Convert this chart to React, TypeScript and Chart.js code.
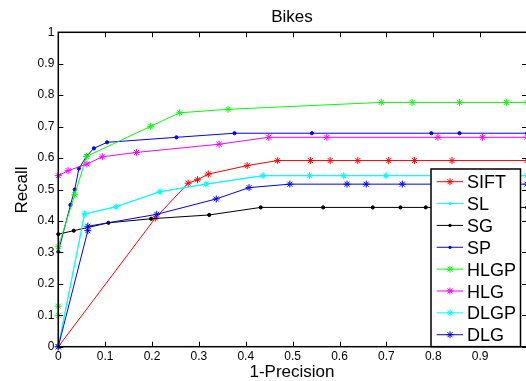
import React, { useEffect, useRef } from "react";
import { Chart, registerables } from "chart.js";

Chart.register(...registerables);

// ---------- data ----------
const SERIES_NAMES = ["SIFT", "SL", "SG", "SP", "HLGP", "HLG", "DLGP", "DLG"];

const SIFT_X = [0, 0.207, 0.277, 0.297, 0.32, 0.403, 0.468, 0.538, 0.58, 0.639, 0.705, 0.76, 0.84, 1.0];
const SIFT_Y = [0, 0.409, 0.52, 0.531, 0.549, 0.576, 0.592, 0.592, 0.592, 0.592, 0.592, 0.592, 0.592, 0.592];

const SL_X = [0, 0.056, 0.123, 0.217, 0.315, 0.437, 0.536, 0.609, 0.699, 0.8, 1.0];
const SL_Y = [0, 0.422, 0.445, 0.493, 0.517, 0.544, 0.544, 0.544, 0.544, 0.544, 0.544];

const SG_X = [0, 0.033, 0.107, 0.198, 0.322, 0.432, 0.565, 0.671, 0.73, 0.784, 0.85, 1.0];
const SG_Y = [0.358, 0.369, 0.394, 0.407, 0.419, 0.443, 0.443, 0.443, 0.443, 0.443, 0.443, 0.443];

const SP_X = [0, 0.026, 0.035, 0.044, 0.061, 0.076, 0.104, 0.252, 0.376, 0.541, 0.796, 0.856, 1.0];
const SP_Y = [0.302, 0.451, 0.5, 0.567, 0.607, 0.631, 0.65, 0.666, 0.679, 0.679, 0.679, 0.679, 0.679];

const HLGP_X = [0, 0, 0, 0.035, 0.06, 0.197, 0.259, 0.362, 0.689, 0.755, 0.856, 0.956, 1.0];
const HLGP_Y = [0.099, 0.129, 0.318, 0.483, 0.605, 0.701, 0.744, 0.755, 0.777, 0.777, 0.777, 0.777, 0.777];

const HLG_X = [0, 0, 0.021, 0.061, 0.094, 0.167, 0.343, 0.449, 0.573, 0.81, 0.905, 1.0];
const HLG_Y = [0, 0.544, 0.56, 0.581, 0.604, 0.618, 0.644, 0.666, 0.666, 0.666, 0.666, 0.666];

const DLGP_X = [0, 0.056, 0.123, 0.217, 0.315, 0.437, 0.536, 0.609, 0.699, 0.8, 1.0];
const DLGP_Y = [0, 0.422, 0.445, 0.493, 0.517, 0.544, 0.544, 0.544, 0.544, 0.544, 0.544];

const DLG_X = [0, 0.063, 0.063, 0.21, 0.337, 0.407, 0.494, 0.616, 0.657, 0.734, 1.0];
const DLG_Y = [0, 0.369, 0.383, 0.421, 0.47, 0.506, 0.517, 0.517, 0.517, 0.517, 0.517];

const X_TICKS = [0, 0.1, 0.2, 0.3, 0.4, 0.5, 0.6, 0.7, 0.8, 0.9];
const X_TICK_LABELS = ["0", "0.1", "0.2", "0.3", "0.4", "0.5", "0.6", "0.7", "0.8", "0.9"];
const Y_TICKS = [0, 0.1, 0.2, 0.3, 0.4, 0.5, 0.6, 0.7, 0.8, 0.9, 1];
const Y_TICK_LABELS = ["0", "0.1", "0.2", "0.3", "0.4", "0.5", "0.6", "0.7", "0.8", "0.9", "1"];

const TITLE = "Bikes";
const X_TITLE = "1-Precision";
const Y_TITLE = "Recall";

// ---------- styles ----------
const SERIES = [
  { x: SIFT_X, y: SIFT_Y, color: "#ff0000", marker: "star" },
  { x: SL_X, y: SL_Y, color: "#00ffff", marker: "dot" },
  { x: SG_X, y: SG_Y, color: "#000000", marker: "dot" },
  { x: SP_X, y: SP_Y, color: "#0000ff", marker: "dot" },
  { x: HLGP_X, y: HLGP_Y, color: "#00ff00", marker: "star" },
  { x: HLG_X, y: HLG_Y, color: "#ff00ff", marker: "star" },
  { x: DLGP_X, y: DLGP_Y, color: "#00ffff", marker: "star" },
  { x: DLG_X, y: DLG_Y, color: "#0000ff", marker: "star" },
];

const FONT = "'Liberation Sans', Arial, Helvetica, sans-serif";

function drawMarker(ctx: CanvasRenderingContext2D, kind: string, x: number, y: number, color: string) {
  ctx.save();
  ctx.strokeStyle = color;
  ctx.fillStyle = color;
  ctx.lineWidth = 1;
  if (kind === "star") {
    const r = 3.5;
    const d = r * Math.SQRT1_2;
    ctx.beginPath();
    ctx.moveTo(x - r, y);
    ctx.lineTo(x + r, y);
    ctx.moveTo(x, y - r);
    ctx.lineTo(x, y + r);
    ctx.moveTo(x - d, y - d);
    ctx.lineTo(x + d, y + d);
    ctx.moveTo(x - d, y + d);
    ctx.lineTo(x + d, y - d);
    ctx.stroke();
  } else {
    ctx.beginPath();
    ctx.arc(x, y, 1.6, 0, Math.PI * 2);
    ctx.fill();
  }
  ctx.restore();
}

const framePlugin = {
  id: "matlabFrame",
  afterDatasetsDraw(chart: any) {
    const { ctx, chartArea } = chart;
    const { left, right, top, bottom } = chartArea;
    const xs = chart.scales.x;
    const ys = chart.scales.y;
    ctx.save();
    // inward ticks on all four sides
    ctx.strokeStyle = "#000";
    ctx.lineWidth = 1;
    ctx.beginPath();
    const xt = X_TICKS.concat([1]);
    for (const v of xt) {
      const px = Math.round(xs.getPixelForValue(v)) + 0.5;
      ctx.moveTo(px, bottom);
      ctx.lineTo(px, bottom - 5);
      ctx.moveTo(px, top);
      ctx.lineTo(px, top + 5);
    }
    for (const v of Y_TICKS) {
      const py = Math.round(ys.getPixelForValue(v)) + 0.5;
      ctx.moveTo(left, py);
      ctx.lineTo(left + 5, py);
      ctx.moveTo(right, py);
      ctx.lineTo(right - 5, py);
    }
    ctx.stroke();

    // legend
    const lx0 = 431;
    const lx1 = 520.5;
    const ly0 = 169;
    const ly1 = bottom;
    ctx.fillStyle = "#fff";
    ctx.fillRect(lx0, ly0, lx1 - lx0, ly1 - ly0);
    ctx.lineWidth = 1.5;
    ctx.strokeStyle = "#000";
    ctx.strokeRect(lx0, ly0, lx1 - lx0, ly1 - ly0);
    ctx.font = `18px ${FONT}`;
    ctx.textAlign = "left";
    ctx.textBaseline = "alphabetic";
    SERIES.forEach((s, i) => {
      const cy = 181.7 + i * 21.86;
      ctx.strokeStyle = s.color;
      ctx.lineWidth = 1;
      ctx.beginPath();
      ctx.moveTo(436.7, cy);
      ctx.lineTo(463, cy);
      ctx.stroke();
      drawMarker(ctx, s.marker, 450, cy, s.color);
      ctx.fillStyle = "#000";
      ctx.fillText(SERIES_NAMES[i], 467, cy + 6.5);
    });

    // box
    ctx.strokeStyle = "#000";
    ctx.lineWidth = 1.5;
    ctx.strokeRect(left, top, right - left, bottom - top);

    // titles
    ctx.fillStyle = "#000";
    ctx.font = `17px ${FONT}`;
    ctx.textAlign = "center";
    ctx.textBaseline = "alphabetic";
    ctx.fillText(TITLE, 292, 22);
    ctx.fillText(X_TITLE, 292, 377);
    ctx.save();
    ctx.translate(26.7, 190);
    ctx.rotate(-Math.PI / 2);
    ctx.fillText(Y_TITLE, 0, 0);
    ctx.restore();
    ctx.restore();
  },
};

export default function App() {
  const ref = useRef<HTMLCanvasElement>(null);
  useEffect(() => {
    const canvas = ref.current;
    if (!canvas) return;
    const datasets = SERIES.map((s, i) => ({
      label: SERIES_NAMES[i],
      data: s.x.map((xv, j) => ({ x: xv, y: s.y[j] })),
      showLine: true,
      borderColor: s.color,
      backgroundColor: s.color,
      borderWidth: 1,
      pointStyle: s.marker === "star" ? "star" : "circle",
      pointRadius: s.marker === "star" ? 3.5 : 1.6,
      pointBorderWidth: 1,
      pointHoverRadius: 0,
      clip: false,
      order: -i,
      tension: 0,
    }));
    const chart = new Chart(canvas, {
      type: "scatter",
      data: { datasets },
      options: {
        responsive: false,
        devicePixelRatio: 1,
        animation: false,
        events: [],
        layout: { padding: { left: 0, top: 32.3, right: 5, bottom: 0 } },
        plugins: {
          legend: { display: false },
          tooltip: { enabled: false },
          title: { display: false },
        },
        scales: {
          x: {
            type: "linear",
            min: 0,
            max: 1,
            grid: { display: false, drawTicks: false },
            border: { display: false },
            afterBuildTicks: (s: any) => {
              s.ticks = X_TICKS.map((v) => ({ value: v }));
            },
            afterFit: (s: any) => {
              s.height = 34.3;
            },
            ticks: {
              autoSkip: false,
              maxRotation: 0,
              padding: 3,
              color: "#000",
              font: { family: FONT, size: 12 },
              callback: (_v: any, i: number) => X_TICK_LABELS[i],
            },
          },
          y: {
            type: "linear",
            min: 0,
            max: 1,
            grid: { display: false, drawTicks: false },
            border: { display: false },
            afterBuildTicks: (s: any) => {
              s.ticks = Y_TICKS.map((v) => ({ value: v }));
            },
            afterFit: (s: any) => {
              s.width = 58.3;
            },
            ticks: {
              autoSkip: false,
              padding: 4,
              color: "#000",
              font: { family: FONT, size: 12 },
              callback: (_v: any, i: number) => Y_TICK_LABELS[i],
            },
          },
        },
      },
      plugins: [framePlugin],
    } as any);
    return () => chart.destroy();
  }, []);
  return (
    <div
      style={{
        position: "fixed",
        left: 0,
        top: 0,
        width: 526,
        height: 381,
        overflow: "hidden",
        background: "#fff",
      }}
    >
      <canvas ref={ref} width={532} height={381} style={{ display: "block", width: 532, height: 381 }} />
    </div>
  );
}
